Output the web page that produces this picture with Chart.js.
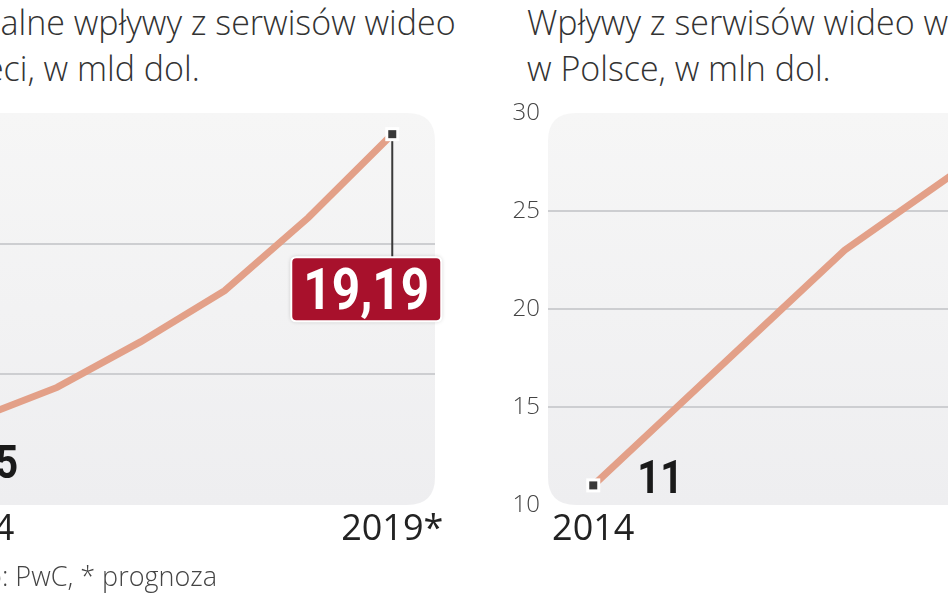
<!DOCTYPE html>
<html><head><meta charset="utf-8">
<script src="https://cdn.jsdelivr.net/npm/chart.js@4.4.1/dist/chart.umd.min.js"></script>
<style>
html,body{margin:0;padding:0;width:948px;height:593px;overflow:hidden;background:#fff;}
#wrap{position:relative;width:948px;height:593px;overflow:hidden;}
.title{position:absolute;font-family:"Open Sans";font-weight:300;font-size:34px;line-height:46px;color:#333;white-space:nowrap;}
canvas{position:absolute;}
.src{position:absolute;font-family:"Open Sans";font-weight:300;font-size:27px;color:#444;white-space:nowrap;}
</style></head><body>
<div id="wrap">
<div class="title" style="left:-72px;top:-1px">Globalne wpływy z serwisów wideo<br>w sieci, w mld dol.</div>
<div class="title" style="left:527px;top:-1px">Wpływy z serwisów wideo w sieci<br>w Polsce, w mln dol.</div>
<canvas id="c1" width="560" height="470" style="left:-100px;top:90px"></canvas>
<canvas id="c2" width="590" height="470" style="left:490px;top:90px"></canvas>
<div class="src" style="left:-78px;top:557px">Źródło: PwC, * prognoza</div>
</div>
<script>
const years = [2014, 2015, 2016, 2017, 2018, 2019];
const xTickYears = [2014, 2019];
const xTickLabels = ['2014', '2019*'];
const globalRevenue = [8.25, 9.5, 11.25, 13.2, 16.0, 19.19];
const polandRevenue = [11, 15, 19, 23, 26, 29];
const globalYTicks = [5, 10, 15, 20];
const polandYTicks = [10, 15, 20, 25, 30];

const fmt = v => v.toLocaleString('pl-PL');
const LINE = '#e3a088';

function rr(ctx, x, y, w, h, r) {
  ctx.beginPath();
  ctx.moveTo(x + r, y);
  ctx.lineTo(x + w - r, y);
  ctx.quadraticCurveTo(x + w, y, x + w, y + r);
  ctx.lineTo(x + w, y + h - r);
  ctx.quadraticCurveTo(x + w, y + h, x + w - r, y + h);
  ctx.lineTo(x + r, y + h);
  ctx.quadraticCurveTo(x, y + h, x, y + h - r);
  ctx.lineTo(x, y + r);
  ctx.quadraticCurveTo(x, y, x + r, y);
  ctx.closePath();
}

const panelPlugin = {
  id: 'panel',
  beforeDraw(chart) {
    const { ctx, chartArea: a } = chart;
    ctx.save();
    const g = ctx.createLinearGradient(0, a.top, 0, a.bottom);
    g.addColorStop(0, '#f6f6f6');
    g.addColorStop(1, '#eeeef0');
    ctx.fillStyle = g;
    rr(ctx, a.left, a.top, a.width, a.height, 28);
    ctx.fill();
    ctx.restore();
  }
};

function condensedText(ctx, text, x, y, size, color, align, sx) {
  ctx.save();
  ctx.font = 'bold ' + size + 'px Roboto';
  ctx.fillStyle = color;
  ctx.textBaseline = 'alphabetic';
  ctx.translate(x, y);
  ctx.scale(sx, 1);
  ctx.textAlign = align;
  ctx.fillText(text, 0, 0);
  ctx.restore();
}

function drawMarker(ctx, px, py) {
  ctx.save();
  ctx.fillStyle = '#ffffff';
  ctx.fillRect(px - 7, py - 7, 14, 14);
  ctx.fillStyle = '#3a3a3a';
  ctx.fillRect(px - 4, py - 4, 8, 8);
  ctx.restore();
}

const labelPlugin = {
  id: 'vlabels',
  afterDraw(chart, args, opts) {
    const { ctx } = chart;
    const meta = chart.getDatasetMeta(0);
    const values = opts.values;
    (opts.items || []).forEach(it => {
      const pt = meta.data[it.index];
      const px = pt.x, py = pt.y;
      const text = fmt(values[it.index]);
      if (it.callout) {
        const bw = 150, bh = 64;
        const bx = px + it.dx - bw / 2, by = py + it.dy;
        ctx.save();
        ctx.strokeStyle = '#3a3a3a';
        ctx.lineWidth = 2;
        ctx.beginPath();
        ctx.moveTo(px, py);
        ctx.lineTo(px, by);
        ctx.stroke();
        ctx.shadowColor = 'rgba(0,0,0,0.25)';
        ctx.shadowBlur = 4;
        ctx.fillStyle = '#a8112c';
        rr(ctx, bx, by, bw, bh, 5);
        ctx.fill();
        ctx.shadowColor = 'transparent';
        ctx.strokeStyle = '#ffffff';
        ctx.lineWidth = 2;
        rr(ctx, bx, by, bw, bh, 5);
        ctx.stroke();
        ctx.restore();
        condensedText(ctx, text, bx + bw / 2, by + 52, 57, '#ffffff', 'center', 0.87);
      } else {
        condensedText(ctx, text, px + it.dx, py + it.dy, 47, '#1a1a1a', it.align, 0.85);
      }
    });
    const last = meta.data.length - 1;
    [0, last].forEach(i => drawMarker(ctx, meta.data[i].x, meta.data[i].y));
  }
};

function makeChart(id, values, yTicks, labelItems, showYLabels) {
  return new Chart(document.getElementById(id), {
    type: 'line',
    data: {
      labels: years,
      datasets: [{
        data: years.map((y, i) => ({ x: y, y: values[i] })),
        borderColor: LINE,
        borderWidth: 7,
        tension: 0,
        fill: false,
        pointRadius: 0,
        pointHoverRadius: 0
      }]
    },
    options: {
      responsive: false,
      animation: false,
      events: [],
      layout: { padding: { top: 23, bottom: 5, right: 25, left: 0 } },
      plugins: {
        legend: { display: false },
        tooltip: { enabled: false },
        vlabels: { items: labelItems, values: values }
      },
      scales: {
        x: {
          type: 'linear',
          min: 2013.46,
          max: 2019.51,
          afterBuildTicks: s => { s.ticks = xTickYears.map(v => ({ value: v })); },
          afterFit: s => { s.height = 50; },
          grid: { display: false, drawTicks: false },
          border: { display: false },
          ticks: {
            autoSkip: false,
            maxRotation: 0,
            padding: 3,
            color: '#222',
            font: { family: 'Open Sans', size: 36, weight: '400' },
            callback: v => xTickLabels[xTickYears.indexOf(v)]
          }
        },
        y: {
          min: yTicks[0],
          max: yTicks[yTicks.length - 1],
          afterBuildTicks: s => { s.ticks = yTicks.map(v => ({ value: v })); },
          afterFit: s => { s.width = showYLabels ? 58 : 28; },
          border: { display: false },
          grid: {
            drawTicks: false,
            lineWidth: 2,
            color: c => (c.tick && (c.tick.value === yTicks[0] || c.tick.value === yTicks[yTicks.length - 1])) ? 'rgba(0,0,0,0)' : '#cdced1'
          },
          ticks: {
            display: showYLabels,
            padding: 8,
            color: '#444',
            font: { family: 'Open Sans', size: 24, weight: '300' }
          }
        }
      }
    },
    plugins: [panelPlugin, labelPlugin]
  });
}

makeChart('c1', globalRevenue, globalYTicks,
  [{ index: 0, dx: 45, dy: 58, align: 'right' }, { index: 5, dx: -26, dy: 123, callout: true }], false);
makeChart('c2', polandRevenue, polandYTicks,
  [{ index: 0, dx: 44, dy: 8, align: 'left' }], true);
</script>
</body></html>
